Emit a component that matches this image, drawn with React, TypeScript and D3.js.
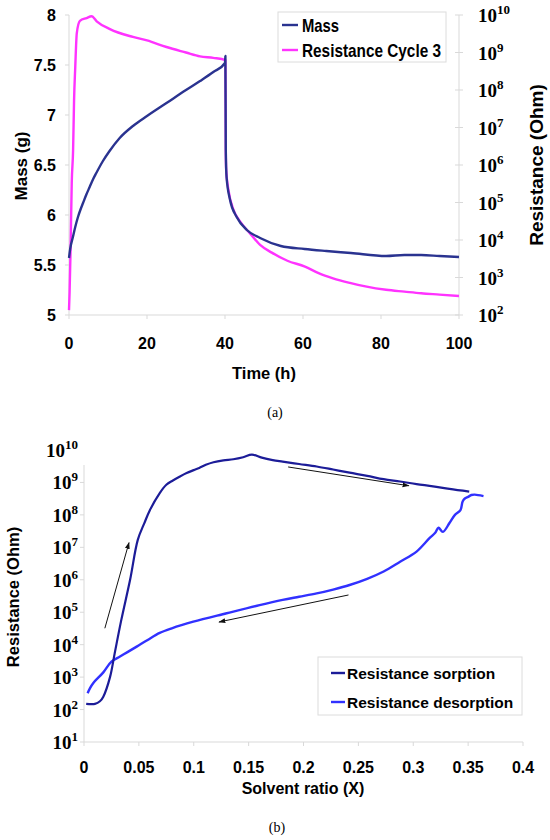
import React from "react";
import * as d3 from "d3";

// ---------- Chart (a): mass and resistance vs time ----------
const massTime = [0, 0.3, 1, 1.6, 2.3, 3, 3.6, 4.4, 5.3, 6.2, 7, 8.7, 10.4, 13, 16.4, 20, 25, 30, 33.6, 37, 40, 40.1, 40.2, 40.4, 41.3, 43, 45.6, 49, 54.3, 60.4, 66, 72.3, 81.3, 86, 90.3, 95, 100];
const massValues = [5.57, 5.66, 5.78, 5.88, 5.98, 6.06, 6.12, 6.2, 6.28, 6.36, 6.42, 6.54, 6.64, 6.77, 6.89, 6.99, 7.12, 7.25, 7.34, 7.43, 7.52, 7.59, 6.65, 6.38, 6.15, 5.98, 5.85, 5.77, 5.69, 5.66, 5.64, 5.62, 5.59, 5.6, 5.6, 5.59, 5.58];

const resTime = [0, 0.15, 0.4, 0.7, 1.05, 1.3, 1.6, 2, 2.8, 4.5, 5.8, 7.1, 10.5, 16.4, 20, 25, 30, 33.6, 37, 40.1, 40.2, 40.3, 40.9, 42.2, 43.9, 46.4, 49, 52, 56, 60.5, 64, 67.7, 72, 76, 81.3, 86, 90.3, 95, 100];
const resValues = [1.35e2, 4.0e2, 5.4e3, 3.3e5, 2.5e6, 5.4e7, 4.0e8, 3.3e9, 7.0e9, 8.3e9, 9.3e9, 6.8e9, 4.2e9, 2.6e9, 2.1e9, 1.4e9, 1.0e9, 7.9e8, 7.2e8, 6.3e8, 2.5e6, 7.4e5, 2.1e5, 6.3e4, 3.1e4, 1.5e4, 7.4e3, 4.6e3, 2.8e3, 1.95e3, 1.3e3, 9.5e2, 7.2e2, 5.8e2, 4.7e2, 4.2e2, 3.8e2, 3.5e2, 3.2e2];

const massTicks = [5, 5.5, 6, 6.5, 7, 7.5, 8];
const timeTicks = [0, 20, 40, 60, 80, 100];
const resTopExponents = [2, 3, 4, 5, 6, 7, 8, 9, 10];
const topLegend = ["Mass", "Resistance Cycle 3"];

// ---------- Chart (b): resistance vs solvent ratio ----------
const sorptionX = [0.002, 0.01, 0.0145, 0.0176, 0.0237, 0.028, 0.034, 0.042, 0.049, 0.055, 0.06, 0.069, 0.075, 0.081, 0.087, 0.0935, 0.1, 0.105, 0.111, 0.118, 0.127, 0.136, 0.145, 0.153, 0.162, 0.172, 0.181, 0.196, 0.212, 0.227, 0.242, 0.258, 0.273, 0.288, 0.303, 0.318, 0.333, 0.351];
const sorptionR = [1.5e2, 1.5e2, 1.8e2, 2.5e2, 1.0e3, 5.5e3, 5.8e4, 1.0e6, 1.7e7, 5.6e7, 1.4e8, 4.7e8, 8.5e8, 1.15e9, 1.5e9, 1.95e9, 2.4e9, 2.8e9, 3.5e9, 4.2e9, 4.8e9, 5.2e9, 6.0e9, 7.2e9, 5.8e9, 4.9e9, 4.4e9, 3.7e9, 3.1e9, 2.5e9, 2.0e9, 1.6e9, 1.26e9, 1.07e9, 8.9e8, 7.6e8, 6.3e8, 5.2e8];

const desorptionX = [0.364, 0.356, 0.353, 0.35, 0.347, 0.345, 0.343, 0.338, 0.333, 0.327, 0.323, 0.32, 0.315, 0.303, 0.288, 0.273, 0.258, 0.242, 0.227, 0.212, 0.196, 0.181, 0.16, 0.13, 0.0996, 0.08, 0.069, 0.058, 0.048, 0.04, 0.0328, 0.025, 0.0176, 0.0085, 0.0055, 0.0033];
const desorptionR = [3.8e8, 4.2e8, 4.1e8, 3.6e8, 3.2e8, 2.6e8, 1.4e8, 1.0e8, 5.6e7, 3.0e7, 4.0e7, 2.8e7, 1.95e7, 7.4e6, 3.6e6, 1.8e6, 1.07e6, 6.9e5, 5.0e5, 3.8e5, 3.0e5, 2.4e5, 1.66e5, 9.3e4, 5.1e4, 3.2e4, 2.3e4, 1.4e4, 8.7e3, 6.0e3, 4.3e3, 3.0e3, 1.4e3, 6.6e2, 4.6e2, 3.2e2];

const ratioTicks = [0, 0.05, 0.1, 0.15, 0.2, 0.25, 0.3, 0.35, 0.4];
const ratioTickLabels = ["0", "0.05", "0.1", "0.15", "0.2", "0.25", "0.3", "0.35", "0.4"];
const resBottomExponents = [1, 2, 3, 4, 5, 6, 7, 8, 9, 10];
const bottomLegend = ["Resistance sorption", "Resistance desorption"];

// annotation arrows (data coordinates)
const arrowStartX = [0.019, 0.186, 0.241];
const arrowStartR = [3.2e4, 3.0e9, 3.4e5];
const arrowEndX = [0.041, 0.296, 0.123];
const arrowEndR = [1.4e7, 7.9e8, 5.0e4];

const SANS = "'Liberation Sans', Arial, sans-serif";
const SERIF = "'Liberation Serif', 'Times New Roman', serif";
const AXIS = "#d9d9d9";
const NAVY = "#2a3390";
const MAGENTA = "#ff33ff";
const SORP = "#1c1c98";
const DESORP = "#3131ff";

export default function App() {
  // scales (a)
  const xT = d3.scaleLinear().domain([0, 100]).range([69, 459]);
  const yM = d3.scaleLinear().domain([5, 8]).range([315, 15]);
  const yR = d3.scaleLog().domain([1e2, 1e10]).range([315, 15]);
  // scales (b)
  const xB = d3.scaleLinear().domain([0, 0.4]).range([84, 523]);
  const yB = d3.scaleLog().domain([1e1, 1e10]).range([742, 450]);

  const massLine = d3.line<number>().curve(d3.curveMonotoneX).x((_, i) => xT(massTime[i])).y((d) => yM(d))(massValues) || "";
  const resLine = d3.line<number>().curve(d3.curveMonotoneX).x((_, i) => xT(resTime[i])).y((d) => yR(d))(resValues) || "";
  const sorpLine = d3.line<number>().curve(d3.curveCatmullRom.alpha(0.5)).x((_, i) => xB(sorptionX[i])).y((d) => yB(d))(sorptionR) || "";
  const desLine = d3.line<number>().curve(d3.curveCatmullRom.alpha(0.5)).x((_, i) => xB(desorptionX[i])).y((d) => yB(d))(desorptionR) || "";

  const legendLengths = [37, 139];

  return (
    <svg width={550} height={840} style={{ position: "absolute", left: 0, top: 0, background: "#fff" }}>
      <defs>
        <marker id="ah" viewBox="0 0 10 10" refX="9" refY="5" markerWidth="7" markerHeight="7" orient="auto">
          <path d="M0,1.5 L10,5 L0,8.5 Z" fill="#111" />
        </marker>
      </defs>

      {/* ---------------- (a) ---------------- */}
      <g>
        <line x1={xT(0)} x2={xT(0)} y1={yM(8)} y2={yM(5)} stroke={AXIS} />
        <line x1={xT(100)} x2={xT(100)} y1={yR(1e10)} y2={yR(1e2)} stroke={AXIS} />
        <line x1={xT(0)} x2={xT(100)} y1={yM(5)} y2={yM(5)} stroke={AXIS} />
        {massTicks.map((t) => (
          <g key={"m" + t}>
            <line x1={xT(0) - 4} x2={xT(0)} y1={yM(t)} y2={yM(t)} stroke={AXIS} />
            <text x={56} y={yM(t) + 6} textAnchor="end" fontFamily={SANS} fontWeight="bold" fontSize={16}>{String(t)}</text>
          </g>
        ))}
        {timeTicks.map((t) => (
          <g key={"t" + t}>
            <line x1={xT(t)} x2={xT(t)} y1={yM(5)} y2={yM(5) + 4} stroke={AXIS} />
            <text x={xT(t)} y={349} textAnchor="middle" fontFamily={SANS} fontWeight="bold" fontSize={16}>{String(t)}</text>
          </g>
        ))}
        {resTopExponents.map((e) => (
          <g key={"r" + e}>
            <line x1={xT(100) - 4} x2={xT(100) + 4} y1={yR(Math.pow(10, e))} y2={yR(Math.pow(10, e))} stroke={AXIS} />
            <text x={478} y={yR(Math.pow(10, e)) + 7} fontFamily={SERIF} fontWeight="bold" fontSize={19}>
              10<tspan dy={-8} fontSize={13}>{String(e)}</tspan>
            </text>
          </g>
        ))}
        <path d={resLine} fill="none" stroke={MAGENTA} strokeWidth={2.4} strokeLinejoin="round" />
        <path d={massLine} fill="none" stroke={NAVY} strokeWidth={2.4} strokeLinejoin="round" />

        <text transform="translate(27,166) rotate(-90)" textAnchor="middle" fontFamily={SANS} fontWeight="bold" fontSize={17}>Mass (g)</text>
        <text transform="translate(543,165) rotate(-90)" textAnchor="middle" fontFamily={SANS} fontWeight="bold" fontSize={19}>Resistance (Ohm)</text>
        <text x={264} y={379} textAnchor="middle" fontFamily={SANS} fontWeight="bold" fontSize={16.5}>Time (h)</text>

        <rect x={278} y={12} width={168} height={50} fill="#fff" stroke="#dcdcdc" />
        {topLegend.map((name, i) => (
          <g key={name}>
            <line x1={282} x2={298} y1={25 + i * 25} y2={25 + i * 25} stroke={i === 0 ? NAVY : MAGENTA} strokeWidth={2.4} />
            <text x={302} y={31.5 + i * 25} fontFamily={SANS} fontWeight="bold" fontSize={18.5} textLength={legendLengths[i]} lengthAdjust="spacingAndGlyphs">{name}</text>
          </g>
        ))}
        <text x={275} y={417} textAnchor="middle" fontFamily={SERIF} fontSize={14}>(a)</text>
      </g>

      {/* ---------------- (b) ---------------- */}
      <g>
        <line x1={xB(0)} x2={xB(0)} y1={465} y2={yB(10)} stroke={AXIS} />
        <line x1={xB(0)} x2={xB(0.4)} y1={yB(10)} y2={yB(10)} stroke={AXIS} />
        {resBottomExponents.map((e) => (
          <g key={"b" + e}>
            {yB(Math.pow(10, e)) >= 465 && (
              <line x1={xB(0) - 4} x2={xB(0)} y1={yB(Math.pow(10, e))} y2={yB(Math.pow(10, e))} stroke={AXIS} />
            )}
            <text x={78} y={yB(Math.pow(10, e)) + 7} textAnchor="end" fontFamily={SERIF} fontWeight="bold" fontSize={19}>
              10<tspan dy={-8} fontSize={13}>{String(e)}</tspan>
            </text>
          </g>
        ))}
        {ratioTicks.map((t, i) => (
          <g key={"x" + t}>
            <line x1={xB(t)} x2={xB(t)} y1={yB(10)} y2={yB(10) + 4} stroke={AXIS} />
            <text x={xB(t)} y={773} textAnchor="middle" fontFamily={SANS} fontWeight="bold" fontSize={16}>{ratioTickLabels[i]}</text>
          </g>
        ))}
        <path d={desLine} fill="none" stroke={DESORP} strokeWidth={2.4} strokeLinejoin="round" />
        <path d={sorpLine} fill="none" stroke={SORP} strokeWidth={2.2} strokeLinejoin="round" />
        {arrowStartX.map((x, i) => (
          <line key={"a" + i} x1={xB(x)} y1={yB(arrowStartR[i])} x2={xB(arrowEndX[i])} y2={yB(arrowEndR[i])} stroke="#111" strokeWidth={1} markerEnd="url(#ah)" />
        ))}
        <text transform="translate(19,597) rotate(-90)" textAnchor="middle" fontFamily={SANS} fontWeight="bold" fontSize={16.5}>Resistance (Ohm)</text>
        <text x={303} y={794} textAnchor="middle" fontFamily={SANS} fontWeight="bold" fontSize={16}>Solvent ratio (X)</text>

        <rect x={318} y={657} width={204} height={58} fill="#fff" stroke="#dcdcdc" />
        {bottomLegend.map((name, i) => (
          <g key={name}>
            <line x1={331} x2={345} y1={673 + i * 29} y2={673 + i * 29} stroke={i === 0 ? SORP : DESORP} strokeWidth={2.4} />
            <text x={347} y={678.5 + i * 29} fontFamily={SANS} fontWeight="bold" fontSize={15.5}>{name}</text>
          </g>
        ))}
        <text x={277} y={832} textAnchor="middle" fontFamily={SERIF} fontSize={14}>(b)</text>
      </g>
    </svg>
  );
}
